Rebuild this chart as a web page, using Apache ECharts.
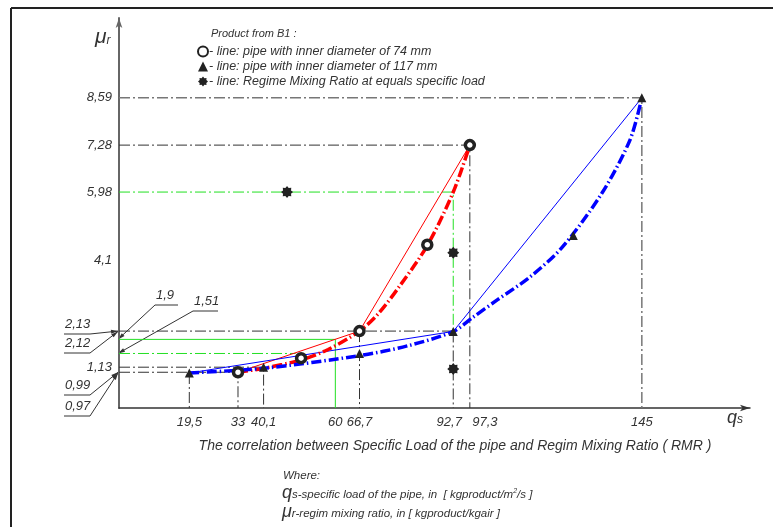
<!DOCTYPE html>
<html>
<head>
<meta charset="utf-8">
<script src="https://cdn.jsdelivr.net/npm/echarts@6/dist/echarts.min.js"></script>
<style>
  html, body { margin: 0; padding: 0; background: #fff; }
  #main { width: 773px; height: 527px; }
</style>
</head>
<body>
<div id="main"></div>
<script>
// tick labels on the axes
var xTicks = [19.5, 33, 40.1, 60, 66.7, 92.7, 97.3, 145];
var yTicks = [1.13, 4.1, 5.98, 7.28, 8.59];

// measured points
var pipe74 = [[33, 0.99], [50.5, 1.38], [66.7, 2.13], [85.5, 4.52], [97.3, 7.28]];
var pipe117 = [[19.5, 0.97], [40.1, 1.13], [66.7, 1.51], [92.7, 2.12], [126, 4.78], [145, 8.59]];
var rmrPoints = [[46.6, 5.98], [92.7, 4.3], [92.7, 1.08]];

// thin broken lines
var red74Line = [[33, 0.99], [66.7, 2.13], [97.3, 7.28]];
var blue117Line = [[19.5, 0.97], [92.7, 2.12], [145, 8.59]];

// thick dashed trend curves
var red74Curve = [[33, 0.99], [40.1, 1.1], [50.5, 1.33], [58, 1.62], [66.7, 2.13], [72, 2.62], [78, 3.4], [85.5, 4.5], [92.7, 5.98], [97.3, 7.28]];
var blue117Curve = [[19.5, 0.97], [40.1, 1.1], [66.7, 1.45], [80, 1.72], [92.7, 2.12], [98, 2.5], [105, 3.0], [114, 3.63], [123, 4.46], [134, 5.96], [141.7, 7.42], [145, 8.59]];

// dash-dot guide lines
var darkGuides = [
    [[0, 7.28], [97.3, 7.28], [97.3, 0]],
    [[0, 2.13], [92.7, 2.13]],
    [[66.7, 2.13], [66.7, 0]],
    [[92.7, 2.12], [92.7, 0]],
    [[0, 1.13], [40.1, 1.13], [40.1, 0]],
    [[0, 0.99], [33, 0.99], [33, 0]],
    [[19.5, 0.97], [19.5, 0]]
];
var greyGuides = [
    [[0, 8.59], [145, 8.59], [145, 0]]
];
var greenGuides = [
    [[0, 5.98], [92.7, 5.98], [92.7, 2.12]],
    [[0, 1.51], [49, 1.51]]
];
var greenSolid = [
    [[0, 1.9], [60, 1.9], [60, 0]]
];

// leader annotations: label, value on the axis
var annoLabels = ['2,13', '2,12', '0,99', '0,97', '1,9', '1,51'];
var annoValues = [2.13, 2.12, 0.99, 0.97, 1.9, 1.51];

var name74 = 'line: pipe with inner diameter of 74 mm';
var name117 = 'line: pipe with inner diameter of 117 mm';
var nameRmr = 'line: Regime Mixing Ratio at equals specific load';

var FONT = 'Liberation Sans, Arial, sans-serif';

function fmt(v) {
    return String(v).replace('.', ',');
}

// 8 point star symbol
var starPath = (function () {
    var s = 'path://';
    for (var i = 0; i < 16; i++) {
        var r = i % 2 == 0 ? 1 : 0.72;
        var a = Math.PI * i / 8;
        s += (i == 0 ? 'M' : 'L') + (r * Math.cos(a)).toFixed(3) + ',' + (r * Math.sin(a)).toFixed(3);
    }
    return s + 'Z';
})();

function guideSeries(list, color, type, width) {
    return list.map(function (d) {
        return {
            type: 'line', data: d, symbol: 'none', silent: true, z: 1,
            lineStyle: {color: color, width: width, type: type}
        };
    });
}

var myChart = echarts.init(document.getElementById('main'));

var series = [];
series = series.concat(guideSeries(darkGuides, '#333', [11, 3, 2, 3], 1));
series = series.concat(guideSeries(greyGuides, '#777', [11, 3, 2, 3], 1.5));
series = series.concat(guideSeries(greenGuides, '#22e022', [11, 3, 2, 3], 1));
series = series.concat(guideSeries(greenSolid, '#22e022', 'solid', 1));

series.push(
    {type: 'line', data: red74Line, symbol: 'none', silent: true, z: 3, lineStyle: {color: '#ff0000', width: 1}},
    {type: 'line', data: blue117Line, symbol: 'none', silent: true, z: 3, lineStyle: {color: '#0000ff', width: 1}},
    {type: 'line', data: red74Curve, smooth: 0.3, symbol: 'none', silent: true, z: 4,
        lineStyle: {color: '#ff0000', width: 3.5, type: [10, 3, 1.5, 3]}},
    {type: 'line', data: blue117Curve, smooth: 0.3, symbol: 'none', silent: true, z: 4,
        lineStyle: {color: '#0000ff', width: 3.5, type: [10, 3, 1.5, 3]}},
    {name: name74, type: 'scatter', data: pipe74, symbol: 'circle', symbolSize: 9, z: 6,
        itemStyle: {color: '#fff', borderColor: '#222', borderWidth: 3.5, opacity: 1}},
    {name: name117, type: 'scatter', data: pipe117, symbol: 'triangle', symbolSize: 9, z: 6,
        itemStyle: {color: '#222', opacity: 1}},
    {name: nameRmr, type: 'scatter', data: rmrPoints, symbol: starPath, symbolSize: 12, z: 6,
        itemStyle: {color: '#222', opacity: 1}}
);

var labelRich = {
    l: {padding: [0, 8, 0, 0]},
    r: {padding: [0, 0, 0, 30]}
};

var option = {
    animation: false,
    backgroundColor: '#fff',
    grid: {left: 119, top: 18, right: 23, bottom: 119},
    legend: {
        orient: 'vertical', left: 192, top: 40,
        itemWidth: 10, itemHeight: 10, itemGap: 2,
        data: [{name: name74, icon: 'circle'}, {name: name117, icon: 'triangle'}, {name: nameRmr, icon: starPath}],
        formatter: function (n) { return '- ' + n; },
        textStyle: {fontFamily: FONT, fontStyle: 'italic', fontSize: 12.5, color: '#333', padding: [0, 0, 0, -4]}
    },
    xAxis: {
        type: 'value', min: 0, max: 175,
        axisLine: {lineStyle: {color: '#333', width: 1.5}, symbol: ['none', 'arrow'], symbolSize: [5, 10]},
        axisTick: {show: false},
        splitLine: {show: false},
        axisLabel: {
            customValues: xTicks, margin: 8,
            formatter: function (v) {
                if (v == 92.7) return '{l|' + fmt(v) + '}';
                if (v == 97.3) return '{r|' + fmt(v) + '}';
                return fmt(v);
            },
            rich: labelRich,
            fontFamily: FONT, fontStyle: 'italic', fontSize: 13, color: '#333'
        }
    },
    yAxis: {
        type: 'value', min: 0, max: 10.8,
        axisLine: {show: true, lineStyle: {color: '#666', width: 2}, symbol: ['none', 'arrow'], symbolSize: [5, 10]},
        axisTick: {show: false},
        splitLine: {show: false},
        axisLabel: {
            customValues: yTicks, formatter: fmt, margin: 7,
            fontFamily: FONT, fontStyle: 'italic', fontSize: 13, color: '#333'
        }
    },
    series: series
};

myChart.setOption(option);

// extra drawing: frame, titles, axis names, leader annotations
var g = [];
g.push({type: 'line', shape: {x1: 11, y1: 8, x2: 773, y2: 8}, style: {stroke: '#222', lineWidth: 2}});
g.push({type: 'line', shape: {x1: 11, y1: 8, x2: 11, y2: 527}, style: {stroke: '#222', lineWidth: 2}});

g.push({type: 'text', left: 211, top: 28, style: {text: 'Product from B1 :', fontFamily: FONT, fontStyle: 'italic', fontSize: 11, fill: '#333'}});

g.push({type: 'text', x: 95, y: 27, style: {
    text: '{m|μ}{s|r}', fill: '#333',
    rich: {m: {fontFamily: FONT, fontStyle: 'italic', fontSize: 21, fill: '#333'},
           s: {fontFamily: FONT, fontStyle: 'italic', fontSize: 12, fill: '#333', padding: [6, 0, 0, 0]}}
}});
g.push({type: 'text', x: 727, y: 409, style: {
    text: '{m|q}{s|s}', fill: '#333',
    rich: {m: {fontFamily: FONT, fontStyle: 'italic', fontSize: 18, fill: '#333'},
           s: {fontFamily: FONT, fontStyle: 'italic', fontSize: 12, fill: '#333', padding: [4, 0, 0, 0]}}
}});

g.push({type: 'text', x: 455, y: 439, style: {
    text: 'The correlation between Specific Load of the pipe and Regim Mixing Ratio ( RMR )',
    align: 'center', fontFamily: FONT, fontStyle: 'italic', fontSize: 14, fill: '#333'
}});
g.push({type: 'text', x: 283, y: 470, style: {text: 'Where:', fontFamily: FONT, fontStyle: 'italic', fontSize: 11.5, fill: '#333'}});
g.push({type: 'text', x: 282, y: 484, style: {
    text: '{m|q}{t|s-specific load of the pipe, in  [ kgproduct/m}{sup|2}{t|/s ]}',
    rich: {m: {fontFamily: FONT, fontStyle: 'italic', fontSize: 18, fill: '#333'},
           t: {fontFamily: FONT, fontStyle: 'italic', fontSize: 11.5, fill: '#333', padding: [4, 0, 0, 0]},
           sup: {fontFamily: FONT, fontStyle: 'italic', fontSize: 7, fill: '#333', padding: [0, 0, 3, 0]}}
}});
g.push({type: 'text', x: 282, y: 503, style: {
    text: '{m|μ}{t|r-regim mixing ratio, in [ kgproduct/kgair ]}',
    rich: {m: {fontFamily: FONT, fontStyle: 'italic', fontSize: 18, fill: '#333'},
           t: {fontFamily: FONT, fontStyle: 'italic', fontSize: 11.5, fill: '#333', padding: [4, 0, 0, 0]}}
}});

// leader layout: underline start x, underline end x, underline y, which end the leader leaves from
var annoLayout = [
    [64, 90, 334, 'r'],
    [64, 90, 353, 'r'],
    [64, 90, 395, 'r'],
    [64, 90, 416, 'r'],
    [155, 178, 305, 'l'],
    [193, 218, 311, 'l']
];

function arrowHead(tip, from) {
    var dx = tip[0] - from[0], dy = tip[1] - from[1];
    var len = Math.sqrt(dx * dx + dy * dy);
    var ux = dx / len, uy = dy / len;
    var L = 7, W = 2;
    var bx = tip[0] - ux * L, by = tip[1] - uy * L;
    return [[tip[0], tip[1]], [bx - uy * W, by + ux * W], [bx + uy * W, by - ux * W]];
}

for (var i = 0; i < annoLabels.length; i++) {
    var lay = annoLayout[i];
    var tip = myChart.convertToPixel({gridIndex: 0}, [0, annoValues[i]]);
    tip = [tip[0] - 1, tip[1]];
    var from = lay[3] == 'r' ? [lay[1], lay[2]] : [lay[0], lay[2]];
    g.push({type: 'line', shape: {x1: lay[0], y1: lay[2], x2: lay[1], y2: lay[2]}, style: {stroke: '#333', lineWidth: 1}});
    g.push({type: 'line', shape: {x1: from[0], y1: from[1], x2: tip[0], y2: tip[1]}, style: {stroke: '#333', lineWidth: 1}});
    g.push({type: 'polygon', shape: {points: arrowHead(tip, from)}, style: {fill: '#333'}});
    g.push({type: 'text', x: lay[0] + 1, y: lay[2] - 16, style: {
        text: annoLabels[i], fontFamily: FONT, fontStyle: 'italic', fontSize: 13, fill: '#333'
    }});
}

myChart.setOption({graphic: g});
</script>
</body>
</html>
